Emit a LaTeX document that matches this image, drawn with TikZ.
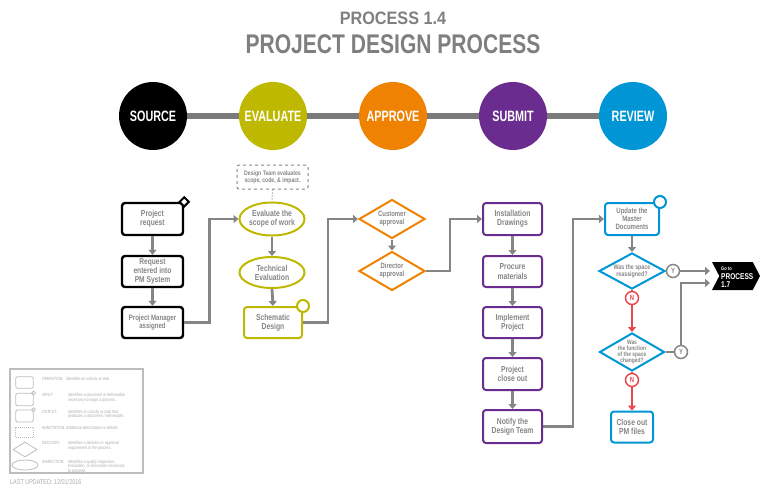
\documentclass[tikz,border=0pt]{standalone}
\usepackage{fontspec}
\setmainfont{Liberation Sans}
\newfontfamily\cnd{Liberation Sans}[FakeStretch=0.78]
\newfontfamily\cndn{Liberation Sans}[FakeStretch=0.72]
\newfontfamily\cndw{Liberation Sans}[FakeStretch=0.9]
\usetikzlibrary{shapes.geometric,shapes.symbols,arrows.meta,calc}
\definecolor{ttlgray}{HTML}{7F7F7F}
\definecolor{txtgray}{HTML}{858585}
\definecolor{arrgray}{HTML}{858585}
\definecolor{bargray}{HTML}{7A7A7A}
\definecolor{leggray}{HTML}{BDBDBD}
\definecolor{legtxt}{HTML}{ABABAB}
\definecolor{olive}{HTML}{BFB800}
\definecolor{orng}{HTML}{EF8200}
\definecolor{purp}{HTML}{6A2C8E}
\definecolor{blu}{HTML}{0096D6}
\definecolor{redc}{HTML}{E8474B}
\begin{document}
\begin{tikzpicture}[x=1pt,y=-1pt,
  phase/.style={circle, minimum size=68pt, inner sep=0pt, text=white, font=\cndn\bfseries\fontsize{15}{15}\selectfont},
  txt/.style={text=txtgray, align=center, font=\cnd\bfseries\fontsize{8.7}{9.2}\selectfont},
  box/.style={txt, draw, rounded corners=3pt, line width=2pt, inner sep=0pt},
  ell/.style={txt, draw, ellipse, line width=2pt, inner sep=0pt},
  dia/.style={draw, diamond, line width=2pt, inner sep=0pt},
  arr/.style={draw=arrgray, line width=2.8pt, -{Triangle[length=5pt,width=8pt]}},
  ln/.style={draw=arrgray, line width=2.8pt},
  redarr/.style={draw=redc, line width=2.4pt, -{Triangle[length=5pt,width=8pt]}},
  redln/.style={draw=redc, line width=2.4pt},
  yn/.style={circle, draw, line width=1.5pt, fill=white, minimum size=13pt, inner sep=0pt, font=\cnd\bfseries\fontsize{7.5}{7.5}\selectfont},
  lgshape/.style={draw=leggray, line width=0.8pt, inner sep=0pt},
  lglab/.style={anchor=west, text=legtxt, font=\cnd\fontsize{4.5}{4.5}\selectfont},
  lgdesc/.style={anchor=north west, align=left, inner sep=0pt, text=legtxt, font=\cnd\fontsize{4.6}{4.4}\selectfont}]
\useasboundingbox (0,0) rectangle (768,492);

% titles
\node[text=ttlgray, font=\cndw\bfseries\fontsize{18}{18}\selectfont] (t1) at (393,18.5) {PROCESS 1.4};
\node[text=ttlgray, font=\cnd\bfseries\fontsize{27}{27}\selectfont] (t2) at (393,44.5) {PROJECT DESIGN PROCESS};

% phase bar and circles
\node[phase, fill=black] (p1) at (153,116) {SOURCE};
\node[phase, fill=olive] (p2) at (273,116) {EVALUATE};
\node[phase, fill=orng] (p3) at (393,116) {APPROVE};
\node[phase, fill=purp] (p4) at (513,116) {SUBMIT};
\node[phase, fill=blu] (p5) at (633,116) {REVIEW};
\draw[bargray, line width=6pt] (p1.east) -- (p2.west);
\draw[bargray, line width=6pt] (p2.east) -- (p3.west);
\draw[bargray, line width=6pt] (p3.east) -- (p4.west);
\draw[bargray, line width=6pt] (p4.east) -- (p5.west);

% SOURCE column
\node[box, draw=black, line width=2.4pt, minimum width=61pt, minimum height=32pt] (req) at (152.5,219) {Project\\request};
\node[box, draw=black, line width=2.4pt, minimum width=61pt, minimum height=31pt, font=\cnd\bfseries\fontsize{8.5}{8.7}\selectfont] (ent) at (152.5,271.5) {Request\\entered into\\PM System};
\node[box, draw=black, line width=2.4pt, minimum width=61pt, minimum height=31pt, font=\cnd\bfseries\fontsize{7.8}{8.6}\selectfont] (pm) at (152.5,322.5) {Project Manager\\assigned};
\node[draw=black, line width=2pt, fill=white, diamond, minimum size=10pt, inner sep=0pt] (reqmark) at (req.north east) {};

% EVALUATE column
\node[draw=txtgray, dashed, line width=1pt, rounded corners=2pt, minimum width=71pt, minimum height=24pt, text=txtgray, align=center, inner sep=0pt, font=\cnd\bfseries\fontsize{6.6}{7}\selectfont] (ann) at (272.5,177) {Design Team evaluates\\scope, code, \& impact.};
\node[ell, draw=olive, minimum width=65pt, minimum height=33pt] (ev1) at (272,219) {Evaluate the\\scope of work};
\node[ell, draw=olive, minimum width=65pt, minimum height=31pt] (ev2) at (272,272.5) {Technical\\Evaluation};
\node[box, draw=olive, minimum width=58pt, minimum height=31pt] (sch) at (273,322.5) {Schematic\\Design};
\node[circle, draw=olive, line width=2pt, fill=white, minimum size=12pt, inner sep=0pt] (schmark) at (sch.north east) {};
\draw[txtgray, line width=1pt, dotted] (ann.south) -- (ev1.north);

% APPROVE column
\node[dia, draw=orng, minimum width=66pt, minimum height=39pt] (cust) at (392,219) {};
\node[txt, font=\cnd\bfseries\fontsize{7.6}{8}\selectfont] (custt) at (cust.center) {Customer\\approval};
\node[dia, draw=orng, minimum width=66pt, minimum height=39pt] (dir) at (392,271) {};
\node[txt, font=\cnd\bfseries\fontsize{7.6}{8}\selectfont] (dirt) at (dir.center) {Director\\approval};

% SUBMIT column
\node[box, draw=purp, minimum width=59pt, minimum height=32pt] (inst) at (512.5,219) {Installation\\Drawings};
\node[box, draw=purp, minimum width=59pt, minimum height=31pt] (proc) at (512.5,271.5) {Procure\\materials};
\node[box, draw=purp, minimum width=59pt, minimum height=31pt] (impl) at (512.5,322.5) {Implement\\Project};
\node[box, draw=purp, minimum width=59pt, minimum height=32pt] (pco) at (512.5,374) {Project\\close out};
\node[box, draw=purp, minimum width=59pt, minimum height=33pt] (notify) at (512.5,426.5) {Notify the\\Design Team};

% REVIEW column
\node[box, draw=blu, minimum width=54pt, minimum height=32pt, font=\cnd\bfseries\fontsize{7.7}{8.2}\selectfont] (upd) at (632,219) {Update the\\Master\\Documents};
\node[circle, draw=blu, line width=2pt, fill=white, minimum size=12pt, inner sep=0pt] (updmark) at (upd.north east) {};
\node[dia, draw=blu, minimum width=66pt, minimum height=36pt] (q1) at (632,271) {};
\node[txt, font=\cnd\bfseries\fontsize{6.8}{7.2}\selectfont] (q1t) at (q1.center) {Was the space\\reassigned?};
\node[dia, draw=blu, minimum width=65pt, minimum height=38pt] (q2) at (632,352) {};
\node[txt, font=\cnd\bfseries\fontsize{6.3}{5.9}\selectfont] (q2t) at (q2.center) {Was\\the function\\of the space\\changed?};
\node[box, draw=blu, minimum width=42pt, minimum height=31pt] (close) at (632,427) {Close out\\PM files};

\node[signal, signal to=east, signal from=west, signal pointer angle=125, fill=black, minimum width=48pt, minimum height=28pt, inner sep=0pt] (go) at (736,276) {};
\node[anchor=west, text=white, inner sep=0pt, font=\cnd\bfseries\fontsize{5.2}{5.2}\selectfont] (go1) at (721,268.5) {Go to};
\node[anchor=west, text=white, inner sep=0pt, font=\cnd\bfseries\fontsize{8.4}{8.4}\selectfont] (go2) at (721,276.5) {PROCESS};
\node[anchor=west, text=white, inner sep=0pt, font=\cnd\bfseries\fontsize{8.4}{8.4}\selectfont] (go3) at (721,284.5) {1.7};
\coordinate (goL) at (710,0);

\node[yn, draw=arrgray, text=arrgray] (y1) at (673,271) {Y};
\node[yn, draw=redc, text=redc] (n1) at (632,298) {N};
\node[yn, draw=arrgray, text=arrgray] (y2) at (681,352) {Y};
\node[yn, draw=redc, text=redc] (n2) at (632,380) {N};

% connectors
\draw[arr] (req.south) -- (ent.north);
\draw[arr] (ent.south) -- (pm.north);
\draw[arr] (pm.east) -- ++(25,0) |- (ev1.west);
\draw[arr] (ev1.south) -- (ev2.north);
\draw[arr] (ev2.south) -- (sch.north);
\draw[arr] (sch.east) -- ++(25,0) |- (cust.west);
\draw[arr] (cust.south) -- (dir.north);
\draw[arr] (dir.east) -- ++(24,0) |- (inst.west);
\draw[arr] (inst.south) -- (proc.north);
\draw[arr] (proc.south) -- (impl.north);
\draw[arr] (impl.south) -- (pco.north);
\draw[arr] (pco.south) -- (notify.north);
\draw[arr] (notify.east) -- ++(30,0) |- (upd.west);
\draw[arr] (upd.south) -- (q1.north);
\draw[ln] (q1.east) -- (y1.west);
\draw[arr] (y1.east) -- (y1.east -| goL);
\draw[ln] (q2.east) -- (y2.west);
\draw[arr] (y2.north) |- ($(goL)+(0,283)$);
\draw[redln] (q1.south) -- (n1.north);
\draw[redarr] (n1.south) -- (q2.north);
\draw[redln] (q2.south) -- (n2.north);
\draw[redarr] (n2.south) -- (close.north);

% legend
\node[draw=leggray, line width=1.3pt, minimum width=133pt, minimum height=104pt, inner sep=0pt] (leg) at (76.5,421) {};
\node[lgshape, rounded corners=1.5pt, minimum width=17.6pt, minimum height=11.6pt] (lop) at (24.5,382.5) {};
\node[lgshape, rounded corners=1.5pt, minimum width=17.6pt, minimum height=12.5pt] (lin) at (24.5,399.5) {};
\node[lgshape, circle, fill=white, minimum size=3.6pt] (linm) at (lin.north east) {};
\node[lgshape, rounded corners=1.5pt, minimum width=17.6pt, minimum height=12pt] (lout) at (24.5,416) {};
\node[lgshape, circle, fill=white, minimum size=3.6pt] (loutm) at (lout.north east) {};
\node[lgshape, dashed, dash pattern=on 1pt off 1pt, minimum width=17.5pt, minimum height=10pt] (lann) at (24.5,432) {};
\node[lgshape, diamond, minimum width=24pt, minimum height=15pt] (ldec) at (25,449.5) {};
\node[lgshape, ellipse, minimum width=26pt, minimum height=10pt] (lins) at (25,465) {};

\node[lglab] (a1) at (38.5,379) {OPERATION:};
\node[lglab] (a2) at (38.5,395) {INPUT:};
\node[lglab] (a3) at (38.5,411.5) {OUTPUT:};
\node[lglab] (a4) at (38.5,427.5) {ANNOTATION:};
\node[lglab] (a5) at (38.5,443) {DECISION:};
\node[lglab] (a6) at (38.5,461.5) {INSPECTION:};
\node[lgdesc] (d1) at (66,377.3) {Identifies an activity or task.};
\node[lgdesc] (d2) at (68,393.3) {Identifies a document or deliverable\\necessary to begin a process.};
\node[lgdesc] (d3) at (68,409.8) {Identifies an activity or task that\\produces a document / deliverable.};
\node[lgdesc] (d4) at (66,425.8) {Additional descriptions or details.};
\node[lgdesc] (d5) at (68,441.3) {Identifies a decision or approval\\requirement in the process.};
\node[lgdesc] (d6) at (68,459.8) {Identifies a quality inspection,\\evaluation, or discussion necessary\\to proceed.};
\node[anchor=west, inner sep=0pt, text=legtxt, font=\cnd\fontsize{7}{7}\selectfont] (lu) at (10,482) {LAST UPDATED: 12/01/2016};
\end{tikzpicture}
\end{document}
